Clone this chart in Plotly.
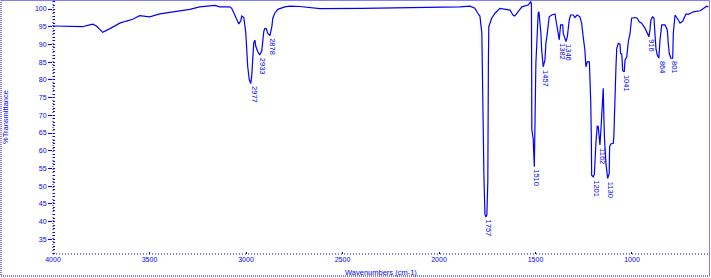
import plotly.graph_objects as go

# ---- data ----
wavenumber = [4000, 3862, 3846, 3820, 3794, 3775, 3742, 3700, 3654, 3620, 3587, 3551, 3499, 3447,
              3380, 3291, 3240, 3162, 3136, 3084, 3074, 3058, 3048, 3037, 3027, 3022, 3011, 3001,
              2996, 2991, 2983, 2975, 2970, 2965, 2960, 2954, 2949, 2939, 2929, 2918, 2913, 2908,
              2903, 2895, 2887, 2876, 2866, 2861, 2851, 2835, 2799, 2773, 2721, 2617, 2400, 2203,
              2000, 1892, 1840, 1814, 1799, 1788, 1778, 1773, 1767, 1762, 1757, 1752, 1747, 1744,
              1742, 1727, 1710, 1684, 1632, 1617, 1607, 1591, 1570, 1539, 1525, 1521, 1519, 1512,
              1509, 1506, 1498, 1491, 1486, 1482, 1477, 1472, 1468, 1463, 1460, 1451, 1446, 1439,
              1434, 1429, 1416, 1399, 1394, 1387, 1380, 1377, 1370, 1359, 1356, 1347, 1342, 1335,
              1325, 1318, 1304, 1296, 1284, 1270, 1261, 1253, 1244, 1239, 1232, 1221, 1218, 1214,
              1211, 1209, 1204, 1201, 1195, 1192, 1187, 1183, 1180, 1175, 1170, 1166, 1160, 1155,
              1152, 1149, 1146, 1143, 1135, 1131, 1126, 1118, 1116, 1110, 1097, 1094, 1092, 1088,
              1083, 1079, 1071, 1062, 1059, 1053, 1048, 1040, 1036, 1027, 1019, 1010, 1002, 985,
              973, 962, 950, 933, 921, 912, 907, 902, 893, 886, 881, 876, 869, 861, 855, 846, 829,
              817, 812, 807, 799, 789, 786, 777, 760, 751, 737, 720, 708, 682, 647, 627, 613, 604]
transmittance = [95.2, 95.2, 95.0, 95.4, 95.7, 95.2, 93.4, 94.6, 96.0, 96.6, 97.1, 98.1, 97.8, 98.6,
                 99.1, 99.9, 100.6, 101.0, 100.6, 100.6, 100.2, 98.3, 96.7, 95.8, 96.7, 98.0, 97.6, 93.2,
                 88.4, 83.7, 80.0, 79.0, 81.4, 85.6, 90.4, 91.2, 89.4, 88.0, 87.0, 88.2, 92.2, 93.6,
                 94.5, 94.5, 93.1, 92.5, 95.0, 97.4, 98.8, 99.9, 100.6, 100.8, 100.7, 100.1, 100.2, 100.3,
                 100.4, 100.6, 100.8, 100.2, 98.8, 98.0, 93.2, 66.7, 52.3, 42.1, 41.3, 41.9, 51.3, 85.0,
                 95.0, 97.4, 98.8, 100.2, 99.7, 98.3, 98.0, 99.2, 100.6, 101.1, 102.0, 101.5, 66.0, 63.3,
                 55.5, 55.5, 84.7, 95.0, 98.8, 99.2, 96.9, 93.1, 88.4, 84.2, 83.7, 85.6, 90.3, 93.1,
                 95.5, 97.8, 98.3, 98.6, 96.9, 94.1, 92.2, 91.3, 95.5, 95.5, 93.1, 91.7, 90.8, 92.2,
                 96.9, 98.3, 98.3, 97.6, 98.3, 97.8, 96.0, 92.2, 88.4, 83.7, 85.1, 85.1, 81.8, 74.3,
                 65.0, 53.1, 52.8, 52.6, 53.3, 59.7, 62.2, 64.9, 67.0, 66.8, 64.0, 61.6, 66.8, 72.0,
                 77.6, 77.6, 70.0, 64.0, 56.4, 53.6, 52.2, 53.6, 61.1, 61.9, 62.1, 64.0, 68.7, 74.3,
                 83.7, 88.9, 90.3, 90.1, 87.5, 87.3, 82.6, 82.3, 85.6, 86.5, 90.8, 93.1, 97.4, 97.6,
                 97.4, 96.4, 96.0, 94.6, 93.1, 92.2, 94.1, 96.9, 97.8, 97.4, 93.1, 88.9, 87.0, 86.1, 91.2, 95.5, 95.5,
                 94.1, 90.3, 87.5, 86.1, 86.1, 93.1, 98.3, 96.9, 96.0, 96.6, 98.6, 98.5, 99.2, 99.5, 100.2, 100.8, 100.6]

peak_labels = ["2977", "2933", "2878", "1757", "1510", "1457", "1382", "1346",
               "1201", "1162", "1130", "1041", "916", "864", "801"]
peak_wn = [2975, 2929, 2876, 1757, 1508, 1460, 1377, 1342, 1201, 1166, 1126, 1040, 912, 861, 799]
peak_t = [79.0, 87.0, 92.5, 41.3, 55.5, 83.7, 91.3, 90.8, 52.6, 61.6, 52.2, 82.3, 92.2, 86.1, 86.1]

x_ticks = [4000, 3500, 3000, 2500, 2000, 1500, 1000]
y_ticks = [35, 40, 45, 50, 55, 60, 65, 70, 75, 80, 85, 90, 95, 100]

BLUE = "#0000ff"
W, H = 711, 278
ML, MR, MT, MB = 53, 2, 0, 24
PW, PH = W - ML - MR, H - MT - MB
FONT = "Liberation Sans"

fig = go.Figure()
fig.add_trace(go.Scatter(x=wavenumber, y=transmittance, mode="lines",
                         line=dict(color=BLUE, width=1.2), hoverinfo="skip"))

for lab, xw, yt in zip(peak_labels, peak_wn, peak_t):
    fig.add_annotation(x=xw, y=yt, text=lab, showarrow=False, textangle=90,
                       xanchor="center", yanchor="top", xshift=3, yshift=-1,
                       font=dict(family=FONT, size=7.5, color=BLUE))

def px_x(p):
    return (p - ML) / PW

def px_y(p):
    return (H - MB - p) / PH

# outer dotted frame
fig.add_shape(type="rect", xref="paper", yref="paper",
              x0=px_x(1), x1=px_x(709.5), y0=px_y(276), y1=px_y(0.5),
              line=dict(color=BLUE, width=1, dash="1px,1px"))
# dotted axis lines
fig.add_shape(type="line", xref="paper", yref="paper", x0=0, x1=0, y0=0, y1=1,
              line=dict(color=BLUE, width=1, dash="1px,2px"))
fig.add_shape(type="line", xref="paper", yref="paper", x0=0, x1=1, y0=0, y1=0,
              line=dict(color=BLUE, width=1, dash="1px,2px"))

fig.add_annotation(xref="paper", yref="paper", x=0.5, y=0, yshift=-18,
                   xanchor="center", yanchor="middle", showarrow=False,
                   text="Wavenumbers (cm-1)", font=dict(family=FONT, size=7.5, color=BLUE))
fig.add_annotation(xref="paper", yref="paper", x=px_x(6), y=px_y(117),
                   xanchor="center", yanchor="middle", showarrow=False, textangle=-90,
                   text="%Transmittance", font=dict(family=FONT, size=7.5, color=BLUE))

fig.update_xaxes(range=[4000, 601], tickvals=x_ticks, ticktext=[str(v) for v in x_ticks],
                 ticks="inside", ticklen=2, tickcolor=BLUE, showgrid=False, zeroline=False,
                 showline=False, tickfont=dict(family=FONT, size=7, color=BLUE))
fig.update_yaxes(range=[30.85, 102.54], tickvals=y_ticks, ticktext=[str(v) for v in y_ticks],
                 ticks="outside", ticklen=4, tickcolor=BLUE, showgrid=False, zeroline=False,
                 showline=False, tickfont=dict(family=FONT, size=7, color=BLUE),
                 minor=dict(dtick=1, ticks="inside", ticklen=2, tickcolor=BLUE))

fig.update_layout(width=W, height=H, margin=dict(l=ML, r=MR, t=MT, b=MB),
                  paper_bgcolor="white", plot_bgcolor="white", showlegend=False)

fig.write_html("out.html")
